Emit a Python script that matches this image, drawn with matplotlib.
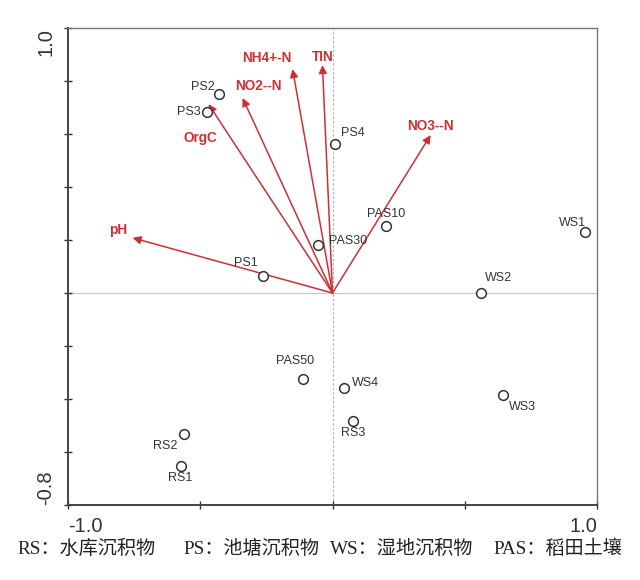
import matplotlib
matplotlib.use('Agg')
import matplotlib.pyplot as plt

# sample scores (RDA biplot)
samples = ['PS2', 'PS3', 'PS1', 'PS4', 'PAS10', 'PAS30', 'WS1', 'WS2',
           'PAS50', 'RS2', 'RS1', 'WS4', 'RS3', 'WS3']
sample_x = [-0.431, -0.476, -0.261, 0.008, 0.204, -0.053, 0.953, 0.560,
            -0.110, -0.563, -0.571, 0.042, 0.079, 0.643]
sample_y = [0.751, 0.683, 0.064, 0.562, 0.253, 0.181, 0.230, 0.000,
            -0.325, -0.532, -0.653, -0.358, -0.483, -0.385]

# environmental vectors
env_vars = ['pH', 'OrgC', 'NO2--N', 'NH4+-N', 'TIN', 'NO3--N']
env_x = [-0.756, -0.469, -0.340, -0.151, -0.038, 0.371]
env_y = [0.208, 0.713, 0.736, 0.845, 0.860, 0.596]

caption = ['RS：水库沉积物', 'PS：池塘沉积物', 'WS：湿地沉积物', 'PAS：稻田土壤']

# label offsets in pixels (layout only)
sample_off = {'PS2': (-16, 7), 'PS3': (-18, 0), 'PS1': (-18, 13), 'PS4': (18, 11),
              'PAS10': (0, 12), 'PAS30': (30, 4), 'WS1': (-12, 9), 'WS2': (18, 15),
              'PAS50': (-8, 18), 'RS2': (-18, -12), 'RS1': (-1, -12), 'WS4': (22, 5),
              'RS3': (0, -12), 'WS3': (20, -12)}
env_off = {'pH': (-14, 8), 'OrgC': (-8, -34), 'NO2--N': (16, 12), 'NH4+-N': (-26, 11),
           'TIN': (0, 8), 'NO3--N': (0, 9)}

red = '#cc3036'

fig = plt.figure(figsize=(6.4, 5.8), dpi=100)
ax = fig.add_axes([68 / 640, 75 / 580, 529 / 640, 477 / 580])
ax.set_xlim(-1.0, 1.0)
ax.set_ylim(-0.8, 1.0)

ax.axhline(0, color='#c8c8c8', lw=0.9, zorder=0)
ax.axvline(0, color='#aaaaaa', lw=0.8, ls=(0, (2, 2)), zorder=0)

for name, x, y in zip(env_vars, env_x, env_y):
    ax.annotate('', xy=(x, y), xytext=(0, 0),
                arrowprops=dict(arrowstyle='-|>', color=red, lw=1.1,
                                mutation_scale=12, shrinkA=0, shrinkB=0))
    dx, dy = env_off[name]
    ax.annotate(name, (x, y), xytext=(dx, dy), textcoords='offset pixels',
                ha='center', va='center', color=red, fontsize=9.8,
                fontweight='bold', family='Liberation Sans')

ax.plot(sample_x, sample_y, 'o', ms=7, mfc='white', mec='#333333', mew=1.1,
        ls='none', zorder=3)
for name, x, y in zip(samples, sample_x, sample_y):
    dx, dy = sample_off[name]
    ax.annotate(name, (x, y), xytext=(dx, dy), textcoords='offset pixels',
                ha='center', va='center', color='#333333', fontsize=9,
                family='Liberation Sans', zorder=4)

ax.set_xticks([-1.0, -0.5, 0.0, 0.5, 1.0])
ax.set_xticklabels(['-1.0', '', '', '', '1.0'])
ax.set_yticks([-0.8, -0.6, -0.4, -0.2, 0.0, 0.2, 0.4, 0.6, 0.8, 1.0])
ax.set_yticklabels(['-0.8', '', '', '', '', '', '', '', '', '1.0'])
ax.tick_params(direction='inout', length=6, width=1, color='#333333',
               labelsize=14.5, labelcolor='#333333', pad=6)
for lab in ax.get_xticklabels():
    lab.set_family('Liberation Sans')
xl = ax.get_xticklabels()
xl[0].set_ha('left')
xl[-1].set_ha('right')
yl = ax.get_yticklabels()
for lab in yl:
    lab.set_rotation(90)
    lab.set_family('Liberation Sans')
yl[0].set_va('bottom')
yl[-1].set_va('top')

for side in ['left', 'bottom']:
    ax.spines[side].set_color('#444444')
    ax.spines[side].set_linewidth(1.4)
for side in ['top', 'right']:
    ax.spines[side].set_color('#777777')
    ax.spines[side].set_linewidth(1.0)

cap_x = [17, 183, 330, 493]
for txt, px in zip(caption, cap_x):
    fig.text(px / 640, 1 - 549 / 580, txt, ha='left', va='center', fontsize=13.8,
             family=['Liberation Serif', 'Noto Sans CJK SC'], color='#222222')

fig.savefig('out.png', dpi=100)
